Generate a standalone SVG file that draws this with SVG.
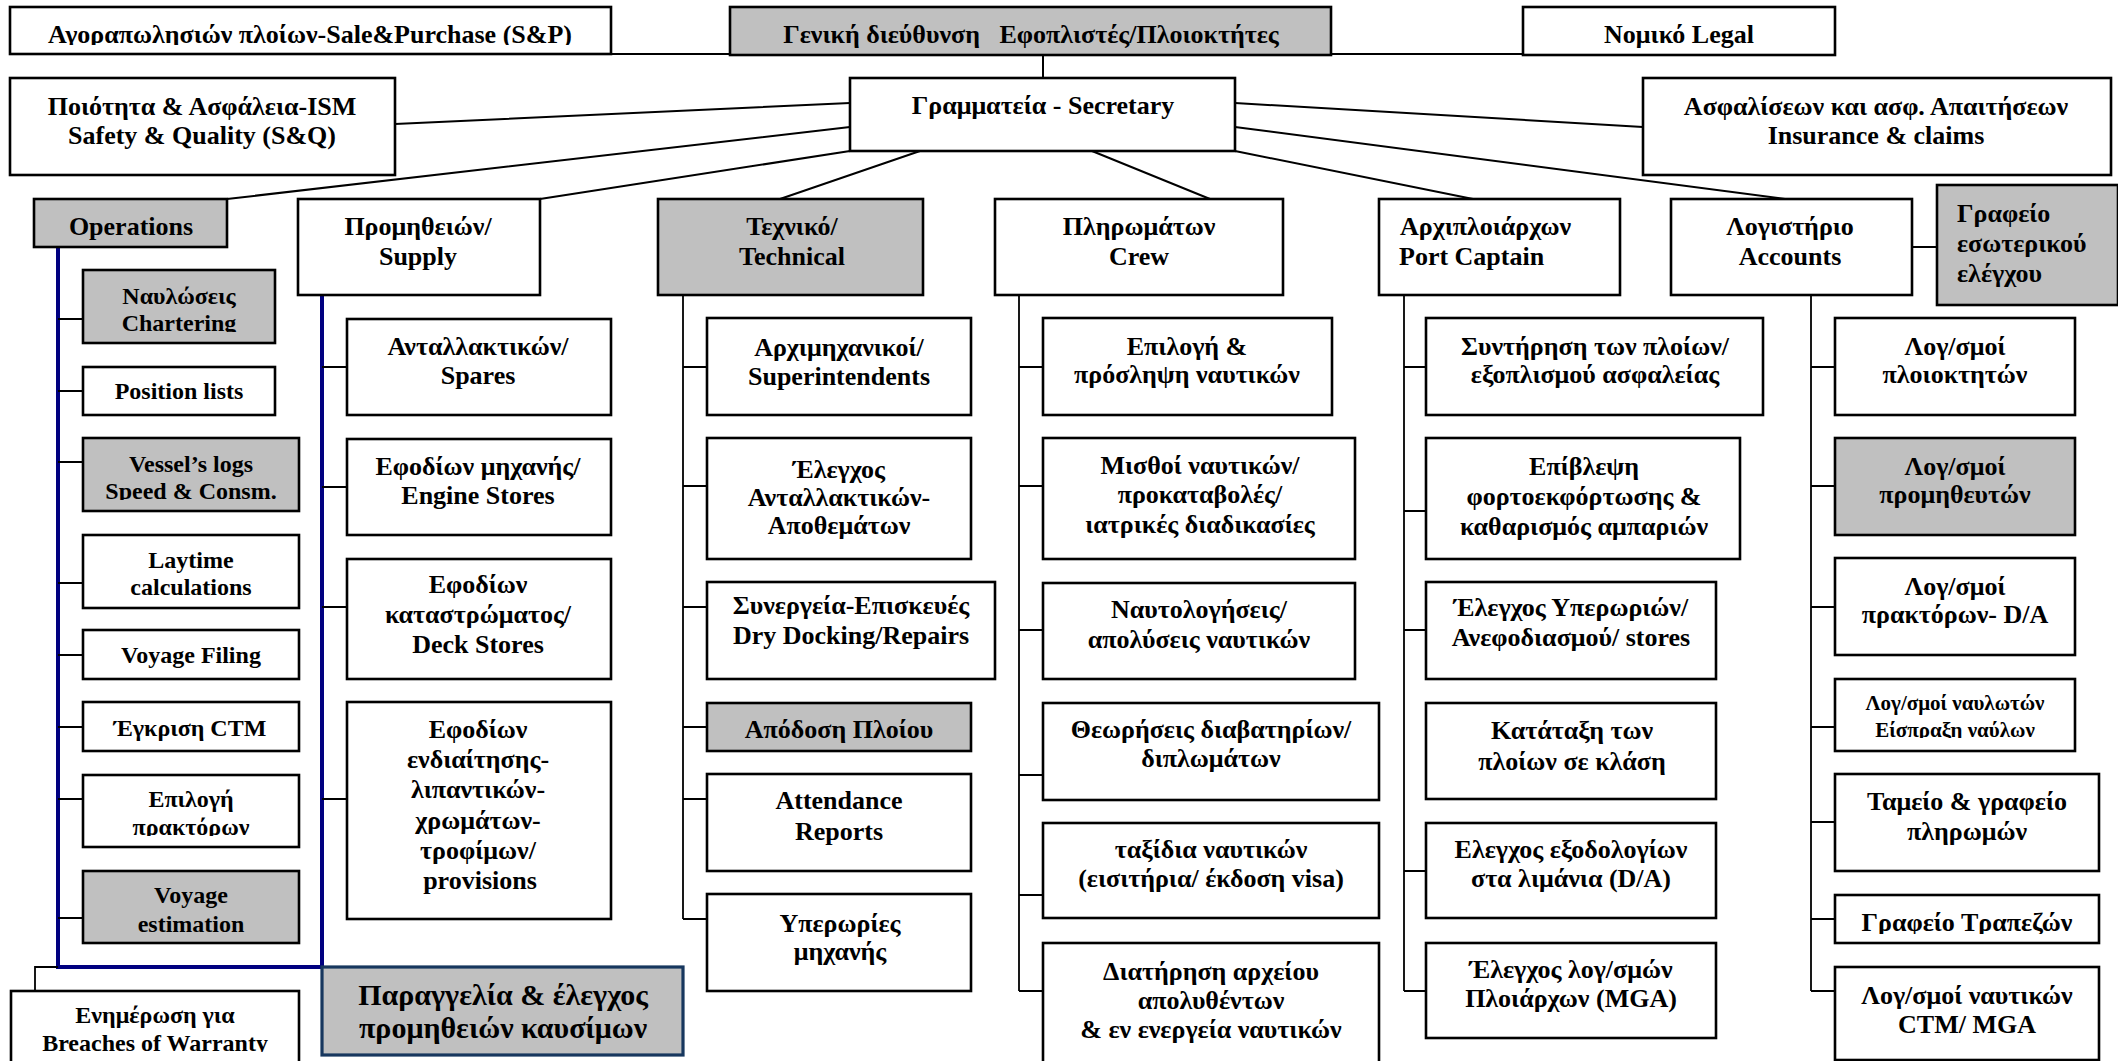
<svg xmlns="http://www.w3.org/2000/svg" width="2118" height="1061" viewBox="0 0 2118 1061">
<style>
.b{fill:#fff;stroke:#000;stroke-width:2.6}
.g{fill:#c0c0c0;stroke:#000;stroke-width:2.6}
.t{font-family:"Liberation Serif","Times New Roman",serif;font-weight:bold;font-size:26px;text-anchor:middle;fill:#000}
.s{font-size:24px}
.l{text-anchor:start}
.c{stroke:#000;stroke-width:1.8;fill:none}
.d{stroke:#000;stroke-width:2;fill:none}
</style>
<defs>
<clipPath id="kSP"><rect x="10" y="7" width="601" height="38"/></clipPath>
<clipPath id="kChart"><rect x="83" y="270" width="192" height="62"/></clipPath>
<clipPath id="kSpeed"><rect x="83" y="438" width="216" height="62"/></clipPath>
<clipPath id="kPrakt"><rect x="83" y="775" width="216" height="61"/></clipPath>
<clipPath id="kBreach"><rect x="11" y="991" width="288" height="61"/></clipPath>
<clipPath id="kTrap"><rect x="1835" y="895" width="265" height="39"/></clipPath>
<clipPath id="kNaul"><rect x="1835" y="679" width="240" height="59"/></clipPath>
</defs>
<rect width="2118" height="1061" fill="#fff"/>
<g id="connectors">
<path class="d" d="M611,54H730M1331,54H1523M1043,55V78"/>
<path class="d" d="M395,124L850,103M227,199L850,127M540,199L850,151M920,151L780,199M1092,151L1210,199M1235,151L1473,199M1235,127L1785,199M1235,103L1643,127M1912,247H1937"/>
<path d="M58,247V967H322V295" fill="none" stroke="#000080" stroke-width="4"/>
<path class="c" d="M58,967H35V991"/>
<path class="c" d="M58,319H83M58,391H83M58,462H83M58,583H83M58,655H83M58,727H83M58,799H83M58,918H83"/>
<path class="c" d="M322,367H347M322,487H347M322,607H347M322,799H347"/>
<path class="c" d="M683,295V919M683,367H707M683,486H707M683,607H707M683,727H707M683,799H707M683,919H707"/>
<path class="c" d="M1019,295V991M1019,367H1043M1019,486H1043M1019,630H1043M1019,775H1043M1019,895H1043M1019,991H1043"/>
<path class="c" d="M1404,295V991M1404,367H1426M1404,511H1426M1404,630H1426M1404,871H1426M1404,991H1426"/>
<path class="c" d="M1811,295V991M1811,367H1835M1811,486H1835M1811,607H1835M1811,727H1835M1811,822H1835M1811,919H1835M1811,991H1835"/>
</g>
<g id="n-sp"><rect class="b" x="10" y="7" width="601" height="47"/><text class="t" x="310" y="43" clip-path="url(#kSP)">Αγοραπωλησιών πλοίων-Sale&amp;Purchase (S&amp;P)</text></g>
<g id="n-gen"><rect class="g" x="730" y="7" width="601" height="48"/><text class="t" x="1031" y="43" style="white-space:pre">Γενική διεύθυνση   Εφοπλιστές/Πλοιοκτήτες</text></g>
<g id="n-legal"><rect class="b" x="1523" y="7" width="312" height="48"/><text class="t" x="1679" y="43">Νομικό Legal</text></g>
<g id="n-quality"><rect class="b" x="10" y="78" width="385" height="97"/><text class="t" x="202" y="115">Ποιότητα &amp; Ασφάλεια-ISM</text><text class="t" x="202" y="144">Safety &amp; Quality (S&amp;Q)</text></g>
<g id="n-sec"><rect class="b" x="850" y="78" width="385" height="73"/><text class="t" x="1043" y="114">Γραμματεία - Secretary</text></g>
<g id="n-ins"><rect class="b" x="1643" y="78" width="468" height="97"/><text class="t" x="1876" y="115">Ασφαλίσεων και ασφ. Απαιτήσεων</text><text class="t" x="1876" y="144">Insurance &amp; claims</text></g>
<g id="n-ops"><rect class="g" x="34" y="199" width="193" height="48"/><text class="t" x="131" y="235">Operations</text></g>
<g id="n-supply"><rect class="b" x="298" y="199" width="242" height="96"/><text class="t" x="418" y="235">Προμηθειών/</text><text class="t" x="418" y="265">Supply</text></g>
<g id="n-tech"><rect class="g" x="658" y="199" width="265" height="96"/><text class="t" x="792" y="235">Τεχνικό/</text><text class="t" x="792" y="265">Technical</text></g>
<g id="n-crew"><rect class="b" x="995" y="199" width="288" height="96"/><text class="t" x="1139" y="235">Πληρωμάτων</text><text class="t" x="1139" y="265">Crew</text></g>
<g id="n-port"><rect class="b" x="1379" y="199" width="241" height="96"/><text class="t l" x="1400" y="235">Αρχιπλοιάρχων</text><text class="t l" x="1399" y="265">Port Captain</text></g>
<g id="n-acc"><rect class="b" x="1671" y="199" width="241" height="96"/><text class="t" x="1790" y="235">Λογιστήριο</text><text class="t" x="1790" y="265">Accounts</text></g>
<g id="n-audit"><rect class="g" x="1937" y="185" width="181" height="120"/><text class="t l" x="1957" y="222">Γραφείο</text><text class="t l" x="1957" y="252">εσωτερικού</text><text class="t l" x="1957" y="282">ελέγχου</text></g>
<g id="n-chart"><rect class="g" x="83" y="270" width="192" height="73"/><g clip-path="url(#kChart)"><text class="t s" x="179" y="304">Ναυλώσεις</text><text class="t s" x="179" y="331">Chartering</text></g></g>
<g id="n-pos"><rect class="b" x="83" y="367" width="192" height="48"/><text class="t s" x="179" y="399">Position lists</text></g>
<g id="n-logs"><rect class="g" x="83" y="438" width="216" height="73"/><g clip-path="url(#kSpeed)"><text class="t s" x="191" y="472">Vessel’s logs</text><text class="t s" x="191" y="499">Speed &amp; Consm.</text></g></g>
<g id="n-lay"><rect class="b" x="83" y="535" width="216" height="73"/><text class="t s" x="191" y="568">Laytime</text><text class="t s" x="191" y="595">calculations</text></g>
<g id="n-vf"><rect class="b" x="83" y="630" width="216" height="49"/><text class="t s" x="191" y="663">Voyage Filing</text></g>
<g id="n-ctm"><rect class="b" x="83" y="702" width="216" height="49"/><text class="t s" x="190" y="736">Έγκριση CTM</text></g>
<g id="n-agents"><rect class="b" x="83" y="775" width="216" height="72"/><g clip-path="url(#kPrakt)"><text class="t s" x="191" y="807">Επιλογή</text><text class="t s" x="191" y="835">πρακτόρων</text></g></g>
<g id="n-vest"><rect class="g" x="83" y="871" width="216" height="72"/><text class="t s" x="191" y="903">Voyage</text><text class="t s" x="191" y="932">estimation</text></g>
<g id="n-breach"><rect class="b" x="11" y="991" width="288" height="75"/><g clip-path="url(#kBreach)"><text class="t s" x="155" y="1023">Ενημέρωση για</text><text class="t s" x="155" y="1051">Breaches of Warranty</text></g></g>
<g id="n-fuel"><rect x="322" y="967" width="361" height="88" fill="#c0c0c0" stroke="#17375e" stroke-width="3.2"/><text class="t" x="503" y="1005" style="font-size:30px">Παραγγελία &amp; έλεγχος</text><text class="t" x="503" y="1038" style="font-size:30px">προμηθειών καυσίμων</text></g>
<g id="n-spares"><rect class="b" x="347" y="319" width="264" height="96"/><text class="t" x="478" y="355">Ανταλλακτικών/</text><text class="t" x="478" y="384">Spares</text></g>
<g id="n-eng"><rect class="b" x="347" y="439" width="264" height="96"/><text class="t" x="478" y="475">Εφοδίων μηχανής/</text><text class="t" x="478" y="504">Engine Stores</text></g>
<g id="n-deck"><rect class="b" x="347" y="559" width="264" height="120"/><text class="t" x="478" y="593">Εφοδίων</text><text class="t" x="478" y="623">καταστρώματος/</text><text class="t" x="478" y="653">Deck Stores</text></g>
<g id="n-prov"><rect class="b" x="347" y="702" width="264" height="217"/><text class="t" x="478" y="738">Εφοδίων</text><text class="t" x="478" y="768">ενδιαίτησης-</text><text class="t" x="478" y="798">λιπαντικών-</text><text class="t" x="478" y="829">χρωμάτων-</text><text class="t" x="478" y="859">τροφίμων/</text><text class="t" x="480" y="889">provisions</text></g>
<g id="n-supt"><rect class="b" x="707" y="318" width="264" height="97"/><text class="t" x="839" y="356">Αρχιμηχανικοί/</text><text class="t" x="839" y="385">Superintendents</text></g>
<g id="n-stock"><rect class="b" x="707" y="438" width="264" height="121"/><text class="t" x="839" y="478">Έλεγχος</text><text class="t" x="839" y="506">Ανταλλακτικών-</text><text class="t" x="839" y="534">Αποθεμάτων</text></g>
<g id="n-dry"><rect class="b" x="707" y="582" width="288" height="97"/><text class="t" x="851" y="614">Συνεργεία-Επισκευές</text><text class="t" x="851" y="644">Dry Docking/Repairs</text></g>
<g id="n-perf"><rect class="g" x="707" y="703" width="264" height="48"/><text class="t" x="839" y="738">Απόδοση Πλοίου</text></g>
<g id="n-att"><rect class="b" x="707" y="774" width="264" height="97"/><text class="t" x="839" y="809">Attendance</text><text class="t" x="839" y="840">Reports</text></g>
<g id="n-eovt"><rect class="b" x="707" y="894" width="264" height="97"/><text class="t" x="840" y="932">Υπερωρίες</text><text class="t" x="840" y="960">μηχανής</text></g>
<g id="n-sel"><rect class="b" x="1043" y="318" width="289" height="97"/><text class="t" x="1187" y="355">Επιλογή &amp;</text><text class="t" x="1187" y="383">πρόσληψη ναυτικών</text></g>
<g id="n-wage"><rect class="b" x="1043" y="438" width="312" height="121"/><text class="t" x="1200" y="474">Μισθοί ναυτικών/</text><text class="t" x="1200" y="503">προκαταβολές/</text><text class="t" x="1200" y="533">ιατρικές διαδικασίες</text></g>
<g id="n-sign"><rect class="b" x="1043" y="583" width="312" height="96"/><text class="t" x="1199" y="618">Ναυτολογήσεις/</text><text class="t" x="1199" y="648">απολύσεις ναυτικών</text></g>
<g id="n-visa"><rect class="b" x="1043" y="703" width="336" height="97"/><text class="t" x="1211" y="738">Θεωρήσεις διαβατηρίων/</text><text class="t" x="1211" y="767">διπλωμάτων</text></g>
<g id="n-trav"><rect class="b" x="1043" y="823" width="336" height="95"/><text class="t" x="1211" y="858">ταξίδια ναυτικών</text><text class="t" x="1211" y="887">(εισιτήρια/ έκδοση visa)</text></g>
<g id="n-arch"><rect class="b" x="1043" y="943" width="336" height="122"/><text class="t" x="1211" y="980">Διατήρηση αρχείου</text><text class="t" x="1211" y="1009">απολυθέντων</text><text class="t" x="1211" y="1038">&amp; εν ενεργεία ναυτικών</text></g>
<g id="n-maint"><rect class="b" x="1426" y="318" width="337" height="97"/><text class="t" x="1595" y="355">Συντήρηση των πλοίων/</text><text class="t" x="1595" y="383">εξοπλισμού ασφαλείας</text></g>
<g id="n-cargo"><rect class="b" x="1426" y="438" width="314" height="121"/><text class="t" x="1584" y="475">Επίβλεψη</text><text class="t" x="1584" y="505">φορτοεκφόρτωσης &amp;</text><text class="t" x="1584" y="535">καθαρισμός αμπαριών</text></g>
<g id="n-povt"><rect class="b" x="1426" y="582" width="290" height="97"/><text class="t" x="1571" y="616">Έλεγχος Υπερωριών/</text><text class="t" x="1571" y="646">Ανεφοδιασμού/ stores</text></g>
<g id="n-class"><rect class="b" x="1426" y="703" width="290" height="96"/><text class="t" x="1572" y="739">Κατάταξη των</text><text class="t" x="1572" y="770">πλοίων σε κλάση</text></g>
<g id="n-da"><rect class="b" x="1426" y="823" width="290" height="95"/><text class="t" x="1571" y="858">Ελεγχος εξοδολογίων</text><text class="t" x="1571" y="887">στα λιμάνια (D/A)</text></g>
<g id="n-mga"><rect class="b" x="1426" y="943" width="290" height="95"/><text class="t" x="1571" y="978">Έλεγχος λογ/σμών</text><text class="t" x="1571" y="1007">Πλοιάρχων (MGA)</text></g>
<g id="n-own"><rect class="b" x="1835" y="318" width="240" height="97"/><text class="t" x="1955" y="355">Λογ/σμοί</text><text class="t" x="1955" y="383">πλοιοκτητών</text></g>
<g id="n-vend"><rect class="g" x="1835" y="438" width="240" height="97"/><text class="t" x="1955" y="475">Λογ/σμοί</text><text class="t" x="1955" y="503">προμηθευτών</text></g>
<g id="n-agacc"><rect class="b" x="1835" y="558" width="240" height="97"/><text class="t" x="1955" y="595">Λογ/σμοί</text><text class="t" x="1955" y="623">πρακτόρων- D/A</text></g>
<g id="n-charter"><rect class="b" x="1835" y="679" width="240" height="72"/><g clip-path="url(#kNaul)"><text class="t" x="1955" y="710" style="font-size:21px">Λογ/σμοί ναυλωτών</text><text class="t" x="1955" y="737" style="font-size:21px">Είσπραξη ναύλων</text></g></g>
<g id="n-cash"><rect class="b" x="1835" y="774" width="264" height="97"/><text class="t" x="1967" y="810">Ταμείο &amp; γραφείο</text><text class="t" x="1967" y="840">πληρωμών</text></g>
<g id="n-bank"><rect class="b" x="1835" y="895" width="264" height="48"/><g clip-path="url(#kTrap)"><text class="t" x="1967" y="931">Γραφείο Τραπεζών</text></g></g>
<g id="n-crewacc"><rect class="b" x="1835" y="967" width="264" height="93"/><text class="t" x="1967" y="1004">Λογ/σμοί ναυτικών</text><text class="t" x="1967" y="1033">CTM/ MGA</text></g>
</svg>
